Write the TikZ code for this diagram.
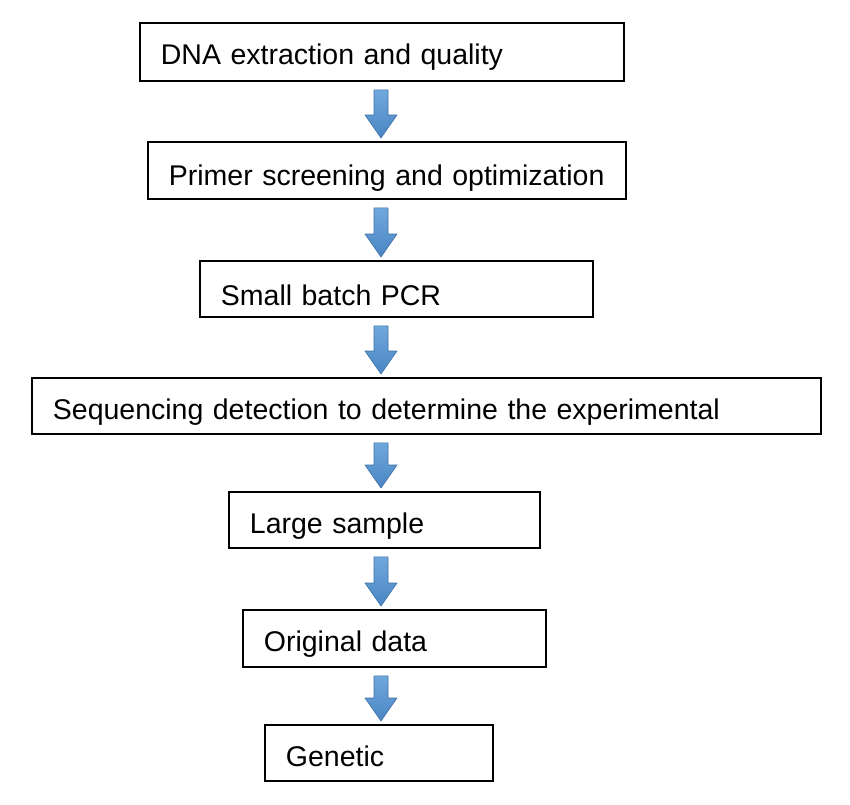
\documentclass[tikz,border=0pt]{standalone}
\usepackage{fontspec}
\setmainfont{Liberation Sans}
\usetikzlibrary{calc}
\definecolor{arrfillA}{HTML}{6FA8DC}
\definecolor{arrfillB}{HTML}{4A86C4}
\definecolor{arrline}{HTML}{3D6FA5}
\tikzset{
  stepbox/.style={draw=black, line width=1.8pt, anchor=north west, inner xsep=21pt, inner ysep=0pt,
    align=left, font=\fontsize{28.5}{30}\selectfont, fill=white},
  blockarrow/.style={top color=arrfillA, bottom color=arrfillB, draw=arrline, line width=0.6pt, line join=round}
}
\newcommand\stepnode[7]{% name, x, y, w, h, depth, text
  \node[stepbox, minimum width=#4pt, minimum height=#5pt, text width=#4pt-42pt,
        text height=#5pt-#6pt, text depth=#6pt] (#1) at (#2pt,-#3pt) {#7};}
\newcommand\blockarr[2]{%
  \path let \p1=(#1.south), \p2=(#2.north) in [blockarrow]
    (374pt,\y1-8pt) -- (388pt,\y1-8pt) -- (388pt,\y2+26pt) -- (397pt,\y2+26pt)
    -- (381pt,\y2+3pt) -- (365pt,\y2+26pt) -- (374pt,\y2+26pt) -- cycle;}
\begin{document}
\begin{tikzpicture}[x=1pt,y=1pt]
\useasboundingbox (0,0) rectangle (850,-804);
\stepnode{s1}{139}{22}{484}{58}{16}{DNA extraction and quality}
\stepnode{s2}{147}{141}{478}{57}{13}{Primer screening and optimization}
\stepnode{s3}{199}{260}{393}{56}{11}{Small batch PCR}
\stepnode{s4}{31}{377}{789}{56}{14}{Sequencing detection to determine the experimental}
\stepnode{s5}{228}{491}{311}{56}{14}{Large sample}
\stepnode{s6}{242}{609}{303}{57}{15}{Original data}
\stepnode{s7}{264}{724}{228}{56}{14}{Genetic}
\blockarr{s1}{s2}
\blockarr{s2}{s3}
\blockarr{s3}{s4}
\blockarr{s4}{s5}
\blockarr{s5}{s6}
\blockarr{s6}{s7}
\end{tikzpicture}
\end{document}
